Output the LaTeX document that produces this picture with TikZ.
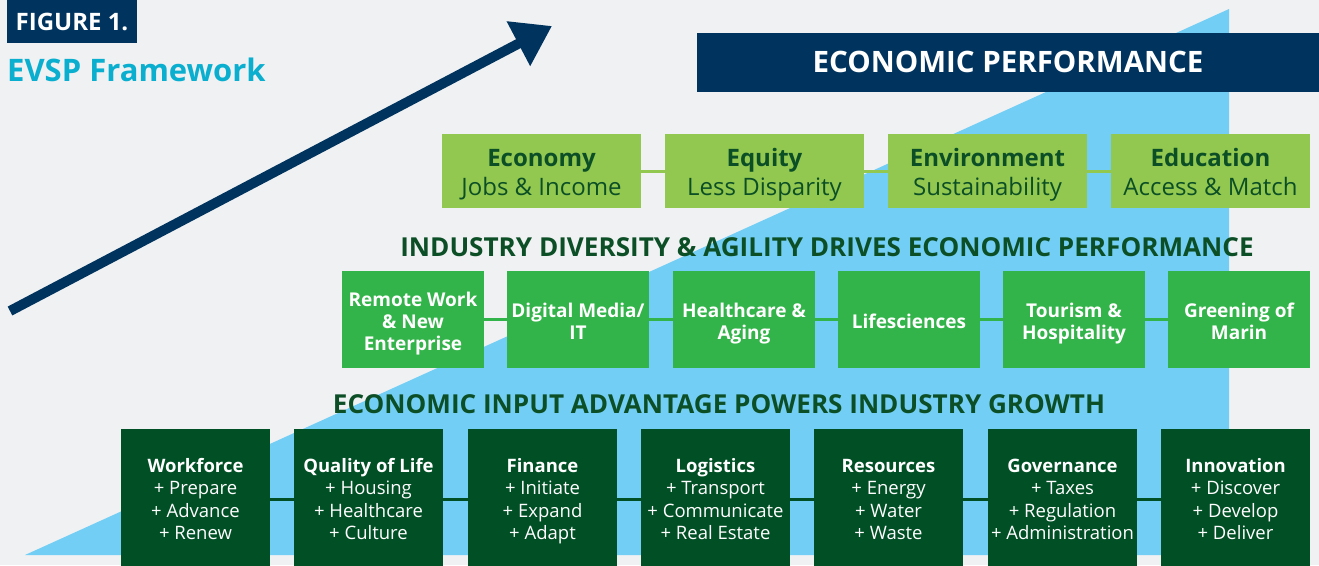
\documentclass[tikz,border=0pt]{standalone}
\usepackage{fontspec}
\setmainfont{Open Sans}
\usetikzlibrary{arrows.meta}
\definecolor{bgc}{HTML}{F0F1F3}
\definecolor{navy}{HTML}{00345E}
\definecolor{cyantext}{HTML}{0AAFCF}
\definecolor{sky}{HTML}{72CEF4}
\definecolor{lgreen}{HTML}{92C84F}
\definecolor{mgreen}{HTML}{33B44A}
\definecolor{dgreen}{HTML}{004F25}
\definecolor{dgtext}{HTML}{0C4F26}
\tikzset{
  tierone/.style={fill=lgreen, minimum width=199pt, minimum height=74pt, inner sep=0pt},
  onetext/.style={align=center, text=dgtext, inner sep=0pt, yshift=-4pt,
    font=\fontsize{24}{29}\selectfont},
  tiertwo/.style={fill=mgreen, minimum width=142pt, minimum height=97pt, inner sep=0pt},
  twotext/.style={align=center, text=white, inner sep=0pt, yshift=-4.5pt,
    font=\fontsize{19}{22}\selectfont\bfseries},
  tierthree/.style={fill=dgreen, minimum width=149pt, minimum height=140pt, inner sep=0pt},
  threetext/.style={align=center, text=white, inner sep=0pt, yshift=-2.5pt,
    font=\fontsize{18.5}{22.3}\selectfont},
  heading/.style={text=dgtext, font=\fontsize{26.1}{30}\selectfont\bfseries, inner sep=0pt},
  linkone/.style={draw=lgreen, line width=3pt},
  linktwo/.style={draw=mgreen, line width=3pt},
  linkthree/.style={draw=dgreen, line width=3pt},
}
\begin{document}
\begin{tikzpicture}[x=1pt,y=-1pt]
\useasboundingbox (0,0) rectangle (1319,565);
\fill[bgc] (0,0) rectangle (1319,565);
\fill[sky] (25,555) -- (1229,9) -- (1229,555) -- cycle;

% title block
\node[fill=navy, minimum width=130pt, minimum height=43pt, inner sep=0pt, text=white,
  font=\fontsize{24}{26}\selectfont\bfseries] (fig) at (72,21.5) {FIGURE 1.};
\node[anchor=west, inner sep=0pt, text=cyantext, font=\fontsize{31}{36}\selectfont\bfseries]
  (ttl) at (7,70) {EVSP Framework};

% arrow
\coordinate (atail) at (10,311);
\coordinate (atip) at (552,26);
\draw[navy, line width=10pt, -{Triangle[length=38pt,width=48pt]}] (atail) -- (atip);

% banner
\node[fill=navy, minimum width=622pt, minimum height=59pt, inner sep=0pt, text=white,
  font=\fontsize{29.5}{32}\selectfont\bfseries] (banner) at (1008,62) {ECONOMIC PERFORMANCE};

% tier one
\node[tierone, label={[onetext]center:{\strut{\bfseries Economy}\\\strut Jobs \& Income}}] (e1) at (541.5,171) {};
\node[tierone, label={[onetext]center:{\strut{\bfseries Equity}\\\strut Less Disparity}}] (e2) at (764.5,171) {};
\node[tierone, label={[onetext]center:{\strut{\bfseries Environment}\\\strut Sustainability}}] (e3) at (987.5,171) {};
\node[tierone, label={[onetext]center:{\strut{\bfseries Education}\\\strut Access \& Match}}] (e4) at (1210.5,171) {};
\draw[linkone] (e1) -- (e2);
\draw[linkone] (e2) -- (e3);
\draw[linkone] (e3) -- (e4);

\node[heading] (h2) at (827,247) {INDUSTRY DIVERSITY \& AGILITY DRIVES ECONOMIC PERFORMANCE};

% tier two
\node[tiertwo, label={[twotext]center:{\strut Remote Work\\\strut\& New\\\strut Enterprise}}] (i1) at (413,319.5) {};
\node[tiertwo, label={[twotext]center:{\strut Digital Media/\\\strut IT}}] (i2) at (578,319.5) {};
\node[tiertwo, label={[twotext]center:{\strut Healthcare \&\\\strut Aging}}] (i3) at (744,319.5) {};
\node[tiertwo, label={[twotext]center:{\strut Lifesciences}}] (i4) at (909,319.5) {};
\node[tiertwo, label={[twotext]center:{\strut Tourism \&\\\strut Hospitality}}] (i5) at (1074,319.5) {};
\node[tiertwo, label={[twotext]center:{\strut Greening of\\\strut Marin}}] (i6) at (1239,319.5) {};
\draw[linktwo] (i1) -- (i2);
\draw[linktwo] (i2) -- (i3);
\draw[linktwo] (i3) -- (i4);
\draw[linktwo] (i4) -- (i5);
\draw[linktwo] (i5) -- (i6);

\node[heading] (h3) at (719,404) {ECONOMIC INPUT ADVANTAGE POWERS INDUSTRY GROWTH};

% tier three
\node[tierthree, label={[threetext]center:{\strut{\bfseries Workforce}\\\strut+ Prepare\\\strut+ Advance\\\strut+ Renew}}] (p1) at (195.5,499) {};
\node[tierthree, label={[threetext]center:{\strut{\bfseries Quality of Life}\\\strut+ Housing\\\strut+ Healthcare\\\strut+ Culture}}] (p2) at (368.5,499) {};
\node[tierthree, label={[threetext]center:{\strut{\bfseries Finance}\\\strut+ Initiate\\\strut+ Expand\\\strut+ Adapt}}] (p3) at (542.5,499) {};
\node[tierthree, label={[threetext]center:{\strut{\bfseries Logistics}\\\strut+ Transport\\\strut+ Communicate\\\strut+ Real Estate}}] (p4) at (715.5,499) {};
\node[tierthree, label={[threetext]center:{\strut{\bfseries Resources}\\\strut+ Energy\\\strut+ Water\\\strut+ Waste}}] (p5) at (888.5,499) {};
\node[tierthree, label={[threetext]center:{\strut{\bfseries Governance}\\\strut+ Taxes\\\strut+ Regulation\\\strut+ Administration}}] (p6) at (1062.5,499) {};
\node[tierthree, label={[threetext]center:{\strut{\bfseries Innovation}\\\strut+ Discover\\\strut+ Develop\\\strut+ Deliver}}] (p7) at (1235.5,499) {};
\draw[linkthree] (p1) -- (p2);
\draw[linkthree] (p2) -- (p3);
\draw[linkthree] (p3) -- (p4);
\draw[linkthree] (p4) -- (p5);
\draw[linkthree] (p5) -- (p6);
\draw[linkthree] (p6) -- (p7);
\end{tikzpicture}
\end{document}
